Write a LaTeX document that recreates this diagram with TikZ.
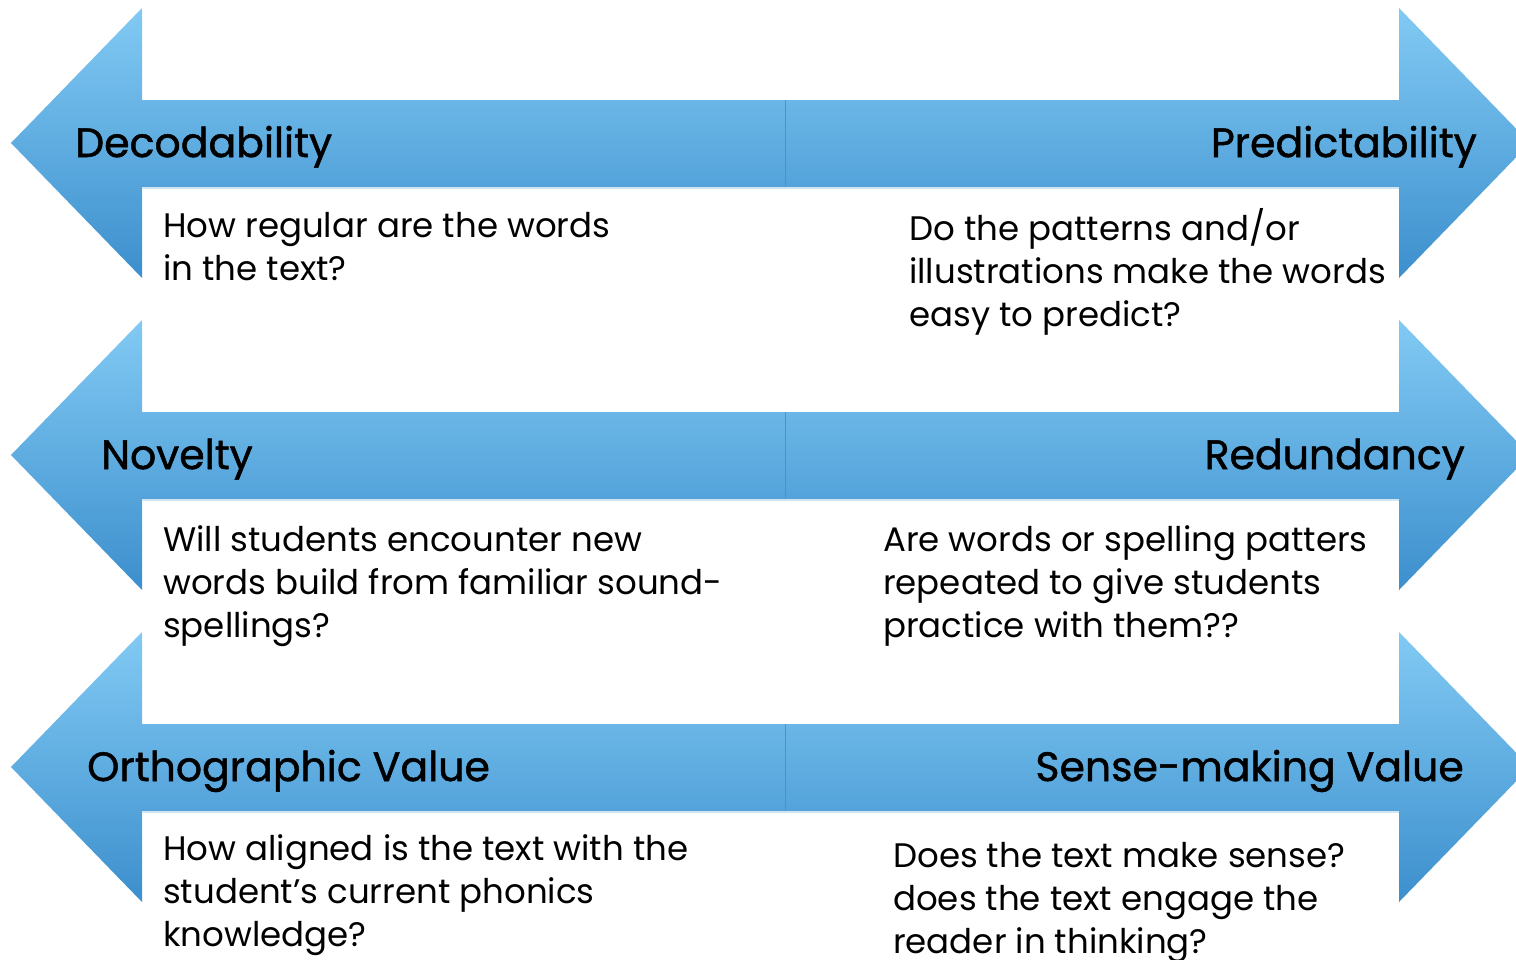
\documentclass[tikz,border=0pt]{standalone}
\usepackage{fontspec}
\setmainfont{Poppins}
\newfontfamily\headfont{Poppins}[FakeBold=1.2]

\definecolor{arrowtop}{RGB}{130,202,244}
\definecolor{arrowbottom}{RGB}{60,143,205}
\definecolor{divider}{RGB}{58,152,216}
\definecolor{edgeshadow}{RGB}{210,228,240}

\newcommand{\qlines}[1]{\begin{tabular}[t]{@{}l@{}}#1\end{tabular}}

\tikzset{
  bluearrow/.style={top color=arrowtop, bottom color=arrowbottom, draw=none},
  heading/.style={inner sep=0pt, font=\headfont\fontsize{41}{50}\selectfont},
  question/.style={inner sep=0pt, anchor=base west, font=\fontsize{34}{43}\selectfont},
}

\begin{document}
\begin{tikzpicture}[x=1pt,y=-1pt]
\useasboundingbox (0,0) rectangle (1516,959);
\fill[white] (0,0) rectangle (1516,959);

% three double arrows
\foreach \dy in {0,312,624}{
  \begin{scope}[shift={(0,\dy)}]
    \shade[bluearrow] (11,143) -- (142,8) -- (142,100) -- (785,100) -- (785,187) -- (142,187) -- (142,278) -- cycle;
    \shade[bluearrow] (785,100) -- (1399,100) -- (1399,8) -- (1530,143) -- (1399,278) -- (1399,187) -- (785,187) -- cycle;
    \draw[divider, line width=1pt] (785,100) -- (785,187);
    \draw[edgeshadow, line width=1.2pt] (142,188) -- (1399,188);
  \end{scope}
}

% row 1
\node[heading, anchor=base west] (decod) at (75,157) {Decodability};
\node[heading, anchor=base east] (predict) at (1477,157) {Predictability};
\node[question] (decodq) at (163,237) {\qlines{How regular are the words\\in the text?}};
\node[question] (predictq) at (909,240) {\qlines{Do the patterns and/or\\illustrations make the words\\easy to predict?}};

% row 2
\node[heading, anchor=base west] (novel) at (101,469) {Novelty};
\node[heading, anchor=base east] (redund) at (1465,469) {Redundancy};
\node[question] (novelq) at (163,551) {\qlines{Will students encounter new\\words build from familiar sound-\\spellings?}};
\node[question] (redundq) at (883,551) {\qlines{Are words or spelling patters\\repeated to give students\\practice with them??}};

% row 3
\node[heading, anchor=base west] (ortho) at (87,781) {Orthographic Value};
\node[heading, anchor=base east] (sense) at (1464,781) {Sense-making Value};
\node[question] (orthoq) at (163,860) {\qlines{How aligned is the text with the\\student's current phonics\\knowledge?}};
\node[question] (senseq) at (893,867) {\qlines{Does the text make sense?\\does the text engage the\\reader in thinking?}};
\end{tikzpicture}
\end{document}
